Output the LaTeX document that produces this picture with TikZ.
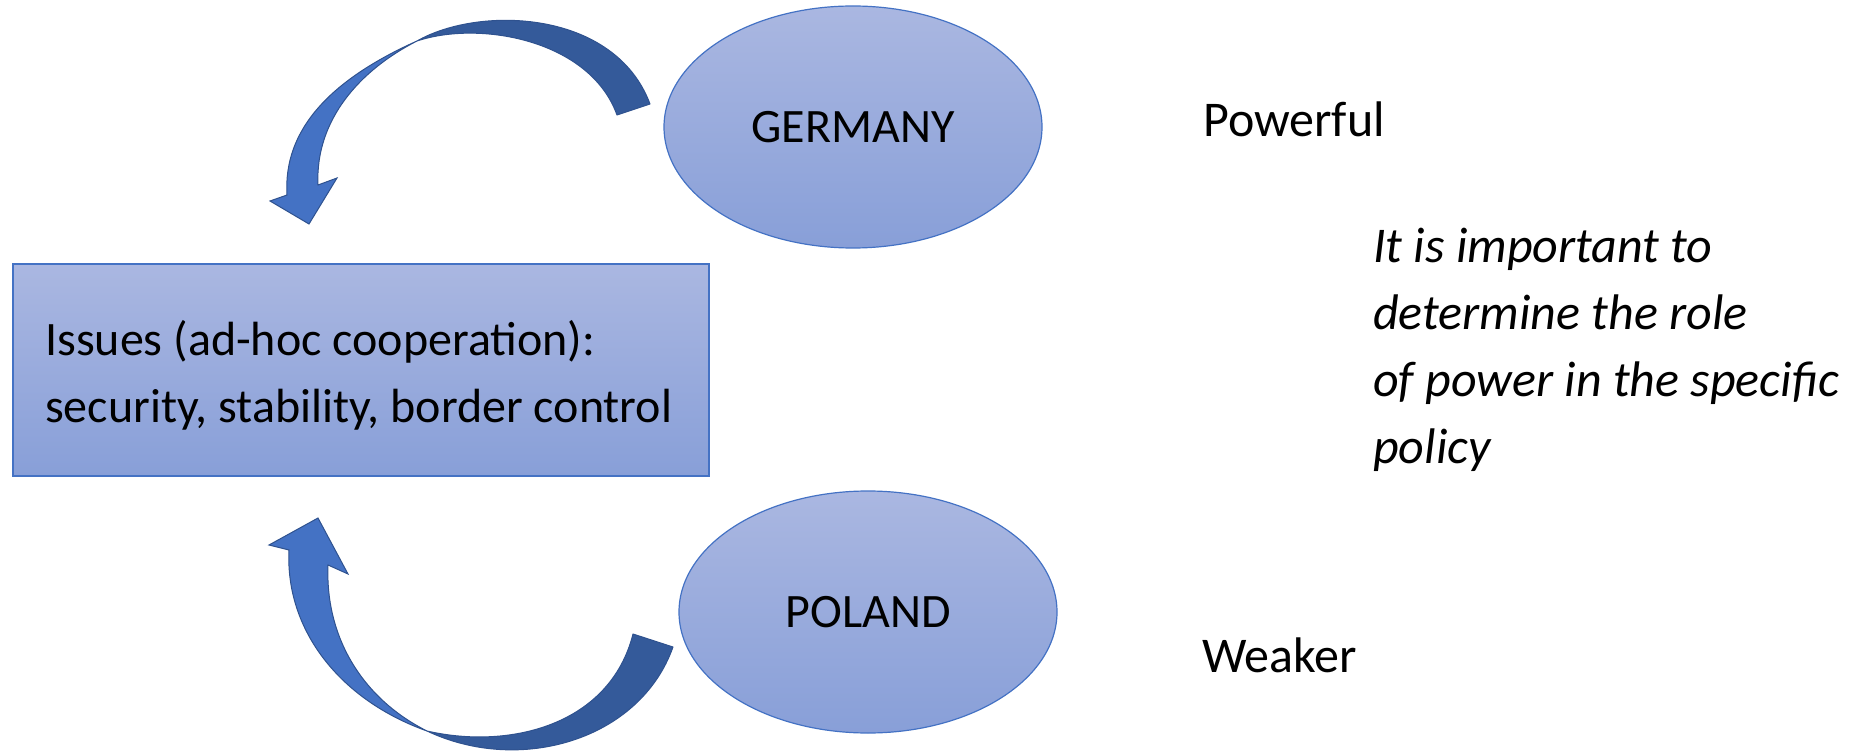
\documentclass[tikz,border=0pt]{standalone}
\usepackage{fontspec}
\setmainfont{Carlito}
\usetikzlibrary{shapes.geometric}
\definecolor{topc}{RGB}{170,183,225}
\definecolor{botc}{RGB}{136,159,216}
\definecolor{bordblue}{RGB}{68,114,196}
\definecolor{lightb}{RGB}{68,114,196}
\definecolor{darkb}{RGB}{52,90,154}
\definecolor{edgeb}{RGB}{47,82,143}
\begin{document}
\begin{tikzpicture}[x=1pt,y=-1pt]
\tikzset{
  blob/.style={draw=bordblue, line width=1.2pt, top color=topc, bottom color=botc},
  oval/.style={ellipse, blob, inner sep=0pt, minimum width=378pt, minimum height=242pt},
  lbl/.style={font=\fontsize{48}{67}\selectfont, inner sep=0pt},
  sidelbl/.style={font=\fontsize{50}{67}\selectfont, inner sep=0pt},
  darkband/.style={fill=darkb, draw=edgeb, line width=1pt, line join=round},
  lightband/.style={fill=lightb, draw=edgeb, line width=1pt, line join=miter}
}
\useasboundingbox (0,0) rectangle (1858,751);

% issues box
\node[blob, rectangle, inner sep=0pt, minimum width=696pt, minimum height=212pt] (issues) at (361,370) {};
\node[lbl, anchor=base west, align=left] (issuestext) at (45,422) {Issues (ad-hoc cooperation):\\security, stability, border control};

% ellipses
\node[oval] (germany) at (853,127) {};
\node[lbl, anchor=base] (germanytext) at (853,143) {GERMANY};
\node[oval] (poland) at (868,612) {};
\node[lbl, anchor=base] (polandtext) at (868,627) {POLAND};

% side labels
\node[sidelbl, anchor=base west] (powerful) at (1203,137) {Powerful};
\node[sidelbl, anchor=base west] (weaker) at (1202,672) {Weaker};
\node[sidelbl, anchor=base west, align=left, font=\fontsize{50}{67}\selectfont\itshape] (note) at (1373,463)
  {It is important to\\determine the role\\of power in the specific\\policy};

% top curved arrow (Germany -> issues)
\coordinate (tx) at (417,41);
\draw[darkband] (650,104) .. controls (615,10) and (480,5) .. (tx)
  .. controls (480,20) and (590,40) .. (617,115) -- cycle;
\draw[lightband] (tx) .. controls (330,80) and (283,130) .. (287,195)
  -- (270,201) -- (309,224) -- (337,178) -- (318,185)
  .. controls (315,120) and (360,70) .. (tx) -- cycle;

% bottom curved arrow (Poland -> issues)
\coordinate (bx) at (427,731);
\draw[darkband] (673,647) .. controls (640,740) and (520,775) .. (bx)
  .. controls (510,750) and (610,725) .. (633,634) -- cycle;
\draw[lightband] (bx) .. controls (340,700) and (285,630) .. (289,550)
  -- (269,545) -- (318,518) -- (348,574) -- (328,565)
  .. controls (325,640) and (365,700) .. (bx) -- cycle;
\end{tikzpicture}
\end{document}
